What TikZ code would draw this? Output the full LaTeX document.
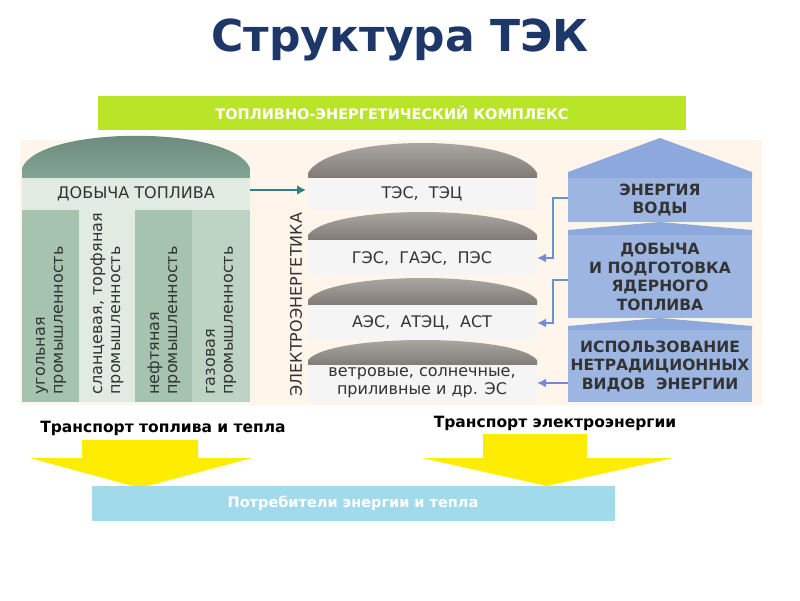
\documentclass[tikz,border=0pt]{standalone}
\usepackage{fontspec}
\setmainfont{DejaVu Sans}
\usetikzlibrary{arrows.meta}
\begin{document}
\begin{tikzpicture}[x=1pt,y=-1pt,
  lbl/.style={font=\fontsize{16}{18}\selectfont, text=black!80, align=center},
  vlbl/.style={font=\fontsize{16}{18}\selectfont, text=black!80, align=left, rotate=90, anchor=west},
  blbl/.style={font=\bfseries\fontsize{15.5}{18.5}\selectfont, text=black!80, align=center},
  link/.style={draw=linkB, line width=2pt, -{Latex[length=9pt,width=9pt]}},
  yarrow/.style={fill=yellow!95!orange, draw=none}]
\useasboundingbox (0,0) rectangle (800,600);
\fill[white] (0,0) rectangle (800,600);
\definecolor{titleblue}{RGB}{30,55,105}
\definecolor{lime}{RGB}{185,228,40}
\definecolor{domeG}{RGB}{130,165,150}
\definecolor{colG}{RGB}{165,195,175}
\definecolor{colL}{RGB}{225,235,225}
\definecolor{greyD}{RGB}{150,145,140}
\definecolor{blueB}{RGB}{140,168,220}
\definecolor{linkB}{RGB}{110,140,215}
\definecolor{skyB}{RGB}{160,218,235}
\node[font=\bfseries\fontsize{44}{48}\selectfont, text=titleblue] (title) at (400,40) {Структура ТЭК};
\node[fill=lime, minimum width=588pt, minimum height=34pt, text=white, font=\bfseries\fontsize{14.5}{16}\selectfont] (tek) at (392,113) {ТОПЛИВНО-ЭНЕРГЕТИЧЕСКИЙ КОМПЛЕКС};
% background
\fill[orange!8] (20,140) rectangle (762,405);
% left block
\shade[top color=domeG!80!black, bottom color=domeG] (22,178) -- (22,168) .. controls (40,125) and (232,125) .. (250,168) -- (250,178) -- cycle;
\fill[colL] (22,178) rectangle (250,210);
\node[lbl] (dob) at (136,194) {ДОБЫЧА ТОПЛИВА};
\fill[colG] (22,210) rectangle (79,402);
\fill[colL] (79,210) rectangle (135,402);
\fill[colG] (135,210) rectangle (192,402);
\fill[colG!60!colL] (192,210) rectangle (250,402);
\node[vlbl] (c1) at (51,398) {угольная\\промышленность};
\node[vlbl] (c2) at (107,398) {сланцевая, торфяная\\промышленность};
\node[vlbl] (c3) at (164,398) {нефтяная\\промышленность};
\node[vlbl] (c4) at (221,398) {газовая\\промышленность};
% electro label
\node[font=\fontsize{16}{18}\selectfont, text=black!80, rotate=90, anchor=west] (el) at (296,400) {ЭЛЕКТРОЭНЕРГЕТИКА};
% middle stack
\foreach \yt/\yb/\ye in {143/178/210, 212/240/275, 278/305/340, 340/365/402}{
  \shade[top color=greyD!70!white, bottom color=greyD!85!black] (308,\yb) -- (308,\yb-5) .. controls (330,{\yt-(\yb-5-\yt)/3}) and (515,{\yt-(\yb-5-\yt)/3}) .. (537,\yb-5) -- (537,\yb) -- cycle;
  \fill[gray!8] (308,\yb) rectangle (537,\ye);
}
\node[lbl] (m1) at (422,194) {ТЭС,\ \ ТЭЦ};
\node[lbl] (m2) at (422,258) {ГЭС,\ \ ГАЭС,\ \ ПЭС};
\node[lbl] (m3) at (422,323) {АЭС,\ \ АТЭЦ,\ \ АСТ};
\node[lbl] (m4) at (422,383) {ветровые, солнечные,\\приливные и др. ЭС};
\coordinate (m2e) at (537,258);
\coordinate (m3e) at (537,323);
\coordinate (m4e) at (537,383);
\draw[draw=teal!60!gray, line width=2pt, -{Latex[length=9pt,width=10pt]}] (250,190) -- (306,190);
% right block
\fill[blueB] (568,178) -- (568,172) -- (660,138) -- (752,172) -- (752,178) -- cycle;
\fill[blueB!85!white] (568,178) rectangle (752,222);
\fill[blueB] (568,235) -- (568,230) -- (660,222) -- (752,230) -- (752,235) -- cycle;
\fill[blueB!85!white] (568,235) rectangle (752,318);
\fill[blueB] (568,330) -- (568,326) -- (660,318) -- (752,326) -- (752,330) -- cycle;
\fill[blueB!85!white] (568,330) rectangle (752,402);
\node[blbl] (r1) at (660,200) {ЭНЕРГИЯ\\ВОДЫ};
\node[blbl] (r2) at (660,277) {ДОБЫЧА\\И ПОДГОТОВКА\\ЯДЕРНОГО\\ТОПЛИВА};
\node[blbl] (r3) at (660,366) {ИСПОЛЬЗОВАНИЕ\\НЕТРАДИЦИОННЫХ\\ВИДОВ\ \ ЭНЕРГИИ};
\coordinate (r1w) at (568,198);
\coordinate (r2w) at (568,280);
\coordinate (r3w) at (568,383);
\draw[link] (r1w) -- (553,198) |- (m2e);
\draw[link] (r2w) -- (553,280) |- (m3e);
\draw[link] (r3w) -- (m4e);
% transport
\node[font=\bfseries\fontsize{15.5}{17}\selectfont] (t1) at (163,428) {Транспорт топлива и тепла};
\node[font=\bfseries\fontsize{15.5}{17}\selectfont] (t2) at (555,423) {Транспорт электроэнергии};
\fill[yarrow] (82,440) -- (198,440) -- (198,458) -- (252,458) -- (140,488) -- (30,458) -- (82,458) -- cycle;
\fill[yarrow] (483,434) -- (587,434) -- (587,458) -- (673,458) -- (547,486) -- (422,458) -- (483,458) -- cycle;
\node[fill=skyB, minimum width=523pt, minimum height=35pt, text=white, font=\bfseries\fontsize{14.5}{16}\selectfont] (cons) at (353,503) {Потребители энергии и тепла};
\end{tikzpicture}
\end{document}
